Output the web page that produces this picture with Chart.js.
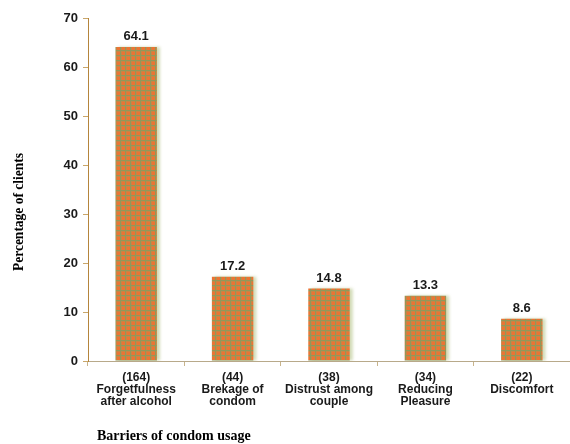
<!DOCTYPE html>
<html>
<head>
<meta charset="utf-8">
<script src="https://cdn.jsdelivr.net/npm/chart.js@4/dist/chart.umd.min.js"></script>
<style>
  html, body { margin: 0; padding: 0; background: #ffffff; }
  #wrap { width: 570px; height: 444px; }
</style>
</head>
<body>
<div id="wrap"><canvas id="c" width="570" height="444"></canvas></div>
<script>
// Barriers of condom usage: number of clients and percentage
const categories = [
  ['(164)', 'Forgetfulness', 'after alcohol'],
  ['(44)', 'Brekage of', 'condom'],
  ['(38)', 'Distrust among', 'couple'],
  ['(34)', 'Reducing', 'Pleasure'],
  ['(22)', 'Discomfort']
];
const percentages = [64.1, 17.2, 14.8, 13.3, 8.6];
const yTicks = [0, 10, 20, 30, 40, 50, 60, 70];

// Orange fill crossed by a thin green grid
function makePattern() {
  const p = document.createElement('canvas');
  p.width = 5; p.height = 5;
  const g = p.getContext('2d');
  g.fillStyle = '#ec7434';
  g.fillRect(0, 0, 5, 5);
  g.fillStyle = '#c98545';
  g.fillRect(1, 0, 1, 5);
  g.fillRect(0, 1, 5, 1);
  g.fillStyle = '#92985a';
  g.fillRect(0, 0, 1, 5);
  g.fillRect(0, 0, 5, 1);
  return g.createPattern(p, 'repeat');
}

const ctx = document.getElementById('c').getContext('2d');
const barFill = makePattern();

// Soft pale glow around the bars
const barGlow = {
  id: 'barGlow',
  beforeDatasetDraw(chart) {
    const c = chart.ctx;
    c.save();
    c.shadowColor = 'rgba(205,215,175,0.9)';
    c.shadowBlur = 3;
    c.shadowOffsetX = 3;
    c.shadowOffsetY = 0;
  },
  afterDatasetDraw(chart) {
    chart.ctx.restore();
  }
};

// Value labels above bars and the axis titles
const labelsAndTitles = {
  id: 'labelsAndTitles',
  afterDatasetsDraw(chart) {
    const c = chart.ctx;
    const meta = chart.getDatasetMeta(0);
    c.save();
    c.fillStyle = '#1a1a1a';
    c.font = 'bold 13px "Liberation Sans", Arial, sans-serif';
    c.textAlign = 'center';
    c.textBaseline = 'middle';
    meta.data.forEach((bar, i) => {
      c.fillText(percentages[i].toFixed(1), bar.x, bar.y - 10);
    });
    c.restore();
  },
  afterDraw(chart) {
    const c = chart.ctx;
    c.save();
    c.fillStyle = '#000000';
    c.font = 'bold 14px "Liberation Serif", "Times New Roman", serif';
    c.textBaseline = 'middle';
    c.textAlign = 'left';
    c.fillText('Barriers of condom usage', chart.chartArea.left + 9, 436);
    c.translate(19, 212);
    c.rotate(-Math.PI / 2);
    c.scale(0.9, 1);
    c.font = 'bold 15px "Liberation Serif", "Times New Roman", serif';
    c.textAlign = 'center';
    c.fillText('Percentage of clients', 0, 0);
    c.restore();
  }
};

new Chart(ctx, {
  type: 'bar',
  data: {
    labels: categories,
    datasets: [{
      data: percentages,
      backgroundColor: barFill,
      borderWidth: 0,
      barPercentage: 0.43,
      categoryPercentage: 1.0
    }]
  },
  options: {
    responsive: false,
    animation: false,
    layout: { padding: { top: 18, right: 0, left: 0, bottom: 0 } },
    plugins: {
      legend: { display: false },
      tooltip: { enabled: false }
    },
    scales: {
      x: {
        afterFit(scale) { scale.height = 83; },
        border: { color: '#b8a98a', width: 1 },
        grid: {
          display: true,
          drawOnChartArea: false,
          drawTicks: true,
          tickLength: 5,
          color: '#c8b48c'
        },
        ticks: {
          color: '#1a1a1a',
          padding: 6,
          maxRotation: 0,
          autoSkip: false,
          font: { family: '"Liberation Sans", Arial, sans-serif', size: 12, weight: 'bold', lineHeight: 0.98 }
        }
      },
      y: {
        min: 0,
        max: 70,
        afterFit(scale) { scale.width = 88; },
        afterBuildTicks(scale) { scale.ticks = yTicks.map(v => ({ value: v })); },
        border: { color: '#b5853c', width: 1 },
        grid: {
          display: true,
          drawOnChartArea: false,
          drawTicks: true,
          tickLength: 5,
          color: '#c9a66a'
        },
        ticks: {
          color: '#1a1a1a',
          padding: 5,
          font: { family: '"Liberation Sans", Arial, sans-serif', size: 13, weight: 'bold' }
        }
      }
    }
  },
  plugins: [barGlow, labelsAndTitles]
});
</script>
</body>
</html>
